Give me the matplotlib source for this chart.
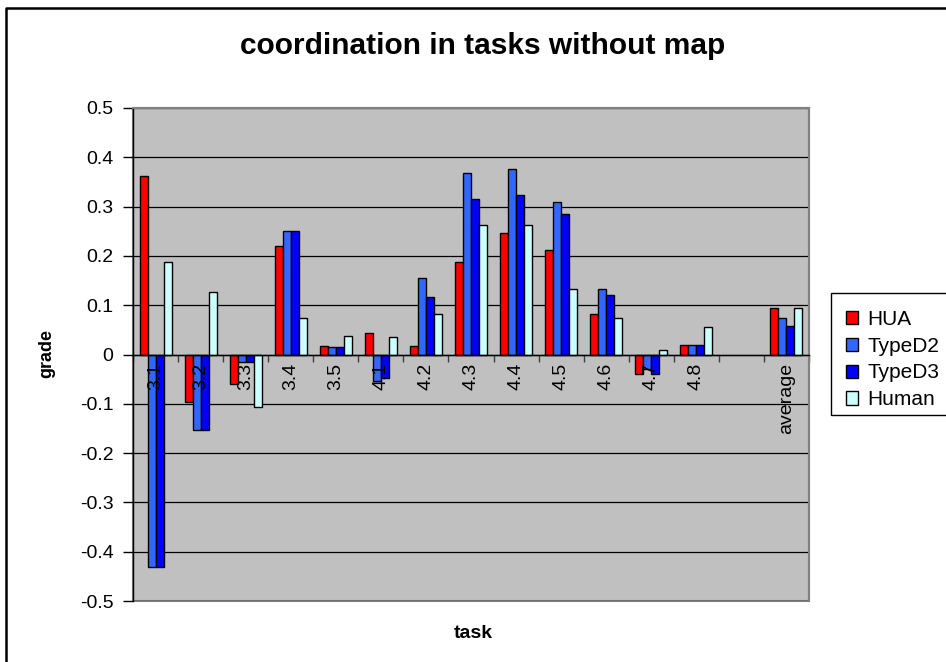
import numpy as np
import matplotlib
matplotlib.use("Agg")
import matplotlib.pyplot as plt
from matplotlib.patches import Rectangle
from matplotlib.lines import Line2D

plt.rcParams['font.family'] = ['Liberation Sans', 'DejaVu Sans']

# Data
tasks = ['3.1', '3.2', '3.3', '3.4', '3.5', '4.1', '4.2', '4.3', '4.4', '4.5',
         '4.6', '4.7', '4.8', '', 'average']
hua = [0.362, -0.097, -0.059, 0.221, 0.017, 0.044, 0.017, 0.188, 0.247, 0.211,
       0.082, -0.039, 0.020, np.nan, 0.094]
typed2 = [-0.431, -0.153, -0.015, 0.250, 0.015, -0.053, 0.155, 0.368, 0.377, 0.309,
          0.132, -0.029, 0.020, np.nan, 0.074]
typed3 = [-0.431, -0.153, -0.015, 0.250, 0.015, -0.047, 0.117, 0.316, 0.324, 0.285,
          0.120, -0.039, 0.020, np.nan, 0.058]
human = [0.188, 0.127, -0.107, 0.074, 0.038, 0.035, 0.082, 0.262, 0.262, 0.132,
         0.074, 0.010, 0.055, np.nan, 0.094]

series = [('HUA', hua, '#FF0000'),
          ('TypeD2', typed2, '#3366FF'),
          ('TypeD3', typed3, '#0000FF'),
          ('Human', human, '#CCFFFF')]

fig = plt.figure(figsize=(9.46, 6.62), dpi=100)
ax = fig.add_axes([133 / 946, 1 - 601 / 662, (809 - 133) / 946, (601 - 108) / 662])
ax.set_facecolor('#C0C0C0')

x = np.arange(len(tasks)) + 0.5
w = 0.1775
for i, (name, vals, col) in enumerate(series):
    ax.bar(x + (i - 1.5) * w, vals, width=w, color=col, edgecolor='black',
           linewidth=1.0, label=name, zorder=3)

ax.set_xlim(0, len(tasks))
ax.set_ylim(-0.5, 0.5)

yt = np.round(np.arange(-0.5, 0.51, 0.1), 1)
ax.set_yticks(yt)
ax.set_yticklabels(['0' if v == 0 else f'{v:.1f}' for v in yt], fontsize=14)
ax.tick_params(axis='y', direction='out', length=7, width=1, pad=7)
ax.yaxis.grid(True, color='black', linewidth=0.9, zorder=1)
ax.set_axisbelow(True)

# category axis crossing at zero, labels drawn over the bars
ax.spines['bottom'].set_position(('data', 0))
ax.spines['bottom'].set_linewidth(1.0)
ax.spines['bottom'].set_zorder(3.5)
ax.set_xticks(np.arange(len(tasks) + 1))
ax.set_xticklabels([])
ax.tick_params(axis='x', which='major', direction='out', length=5, width=1, color='#404040')
for xi, t in zip(x, tasks):
    ax.annotate(t, (xi, 0), xytext=(0, -6), textcoords='offset points', rotation=90,
                ha='center', va='top', fontsize=14, zorder=5)

for s in ['top', 'right']:
    ax.spines[s].set_color('#808080')
    ax.spines[s].set_linewidth(1.5)
ax.spines['left'].set_linewidth(1.0)
ax.add_patch(Rectangle((0, -0.5), len(tasks), 1, fill=False, edgecolor='#808080',
                       linewidth=1.5, transform=ax.transData, clip_on=False, zorder=0.5))

fig.text(483 / 946, 1 - 46 / 662, 'coordination in tasks without map', ha='center',
         va='center', fontsize=21.5, fontweight='bold')
fig.text(47 / 946, 1 - 354 / 662, 'grade', ha='center', va='center', rotation=90,
         fontsize=13, fontweight='bold')
fig.text(473 / 946, 1 - 633 / 662, 'task', ha='center', va='center',
         fontsize=14, fontweight='bold')

# outer chart border (left and top visible)
fig.add_artist(Line2D([6 / 946, 6 / 946, 1.01], [-0.01, 1 - 8 / 662, 1 - 8 / 662],
                      transform=fig.transFigure, color='black', linewidth=1.8))

# legend box
fig.add_artist(Rectangle((831 / 946, 1 - 415 / 662), 0.2, (415 - 293) / 662,
                         transform=fig.transFigure, fill=False, edgecolor='black',
                         linewidth=1.0))
ax.legend(loc='upper left', bbox_to_anchor=(829 / 946, 1 - 293 / 662),
          bbox_transform=fig.transFigure, frameon=False, fontsize=15,
          handlelength=0.6, handleheight=0.6, handletextpad=0.45,
          labelspacing=0.38, borderpad=0.3)

fig.savefig('out.png', dpi=100)
